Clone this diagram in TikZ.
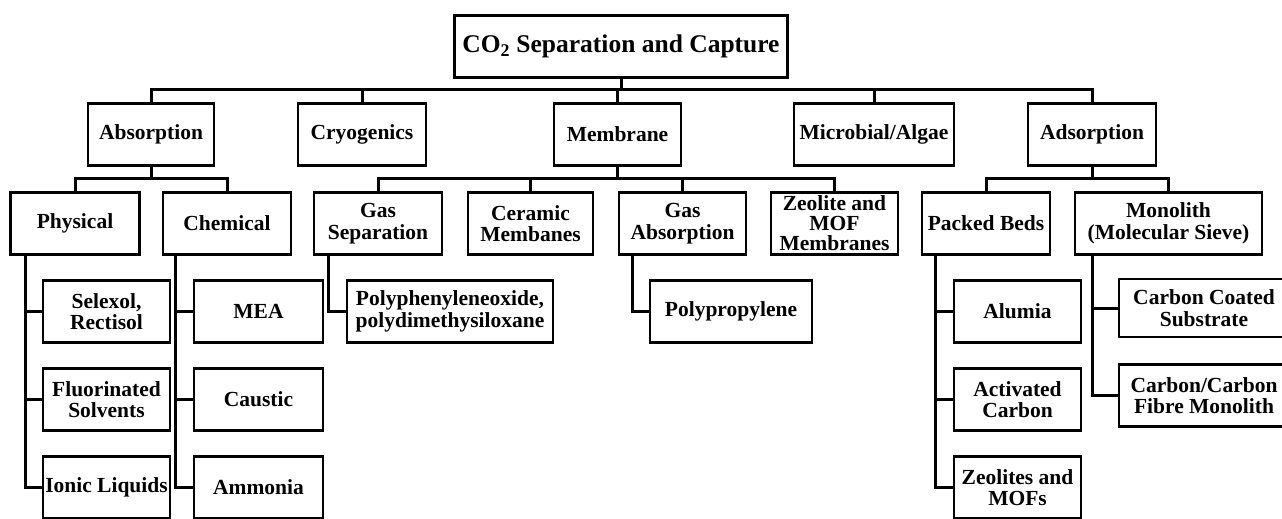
\documentclass[tikz,border=0pt]{standalone}
\usepackage{fontspec}
\setmainfont{Liberation Serif}
\begin{document}
\begin{tikzpicture}[x=1pt,y=-1pt,
  box/.style={shape=rectangle,draw=black,line width=2.6pt,align=center,inner sep=1pt,minimum height=62pt,font=\fontsize{21.5}{21.5}\selectfont\bfseries},
  link/.style={draw=black,line width=3pt}]
\useasboundingbox (0,0) rectangle (1282,519);

\node[box,minimum width=333pt,font=\fontsize{25.5}{27}\selectfont\bfseries] (top) at (621,46.5) {CO\textsubscript{2} Separation and Capture};

\node[box,minimum width=126pt] (absorp) at (151,134.5) {Absorption};
\node[box,minimum width=128pt] (cryo) at (362,134.5) {Cryogenics};
\node[box,minimum width=127pt] (membr) at (617.5,134.5) {Membrane};
\node[box,minimum width=160pt] (micro) at (874,134.5) {Microbial/Algae};
\node[box,minimum width=128pt] (adsorp) at (1092,134.5) {Adsorption};

\node[box,minimum width=129pt] (phys) at (75,223.5) {Physical};
\node[box,minimum width=128pt] (chem) at (227,223.5) {Chemical};
\node[box,minimum width=128pt] (gassep) at (378,223.5) {Gas\\Separation};
\node[box,minimum width=125pt] (ceramic) at (530.5,223.5) {Ceramic\\Membanes};
\node[box,minimum width=127pt] (gasabs) at (682.5,223.5) {Gas\\Absorption};
\node[box,minimum width=127pt,font=\fontsize{21.5}{20}\selectfont\bfseries] (zeomof) at (834.5,223.5) {Zeolite and\\MOF\\Membranes};
\node[box,minimum width=128pt] (packed) at (986,223.5) {Packed Beds};
\node[box,minimum width=187pt] (monolith) at (1168.5,223.5) {Monolith\\(Molecular Sieve)};

\node[box,minimum width=127pt] (selexol) at (106.5,311.5) {Selexol,\\Rectisol};
\node[box,minimum width=127pt] (fluor) at (106.5,399.5) {Fluorinated\\Solvents};
\node[box,minimum width=127pt] (ionic) at (106.5,487.5) {Ionic Liquids};
\node[box,minimum width=129pt] (mea) at (258.5,311.5) {MEA};
\node[box,minimum width=129pt] (caustic) at (258.5,399.5) {Caustic};
\node[box,minimum width=129pt] (ammonia) at (258.5,487.5) {Ammonia};
\node[box,minimum width=206pt] (polyph) at (450,311.5) {Polyphenyleneoxide,\\polydimethysiloxane};
\node[box,minimum width=162pt] (polyprop) at (731,311.5) {Polypropylene};
\node[box,minimum width=127pt] (alumia) at (1017.5,311.5) {Alumia};
\node[box,minimum width=127pt] (actcarb) at (1017.5,399.5) {Activated\\Carbon};
\node[box,minimum width=127pt] (zeomofs) at (1017.5,487.5) {Zeolites and\\MOFs};
\node[box,minimum width=170pt,minimum height=58pt] (carbcoat) at (1204,308) {Carbon Coated\\Substrate};
\node[box,minimum width=170pt] (carbfib) at (1204,395.5) {Carbon/Carbon\\Fibre Monolith};

\foreach \n in {absorp,cryo,membr,micro,adsorp}
  \draw[link] (top.south) -- ++(0,11) -| (\n.north);
\foreach \n in {phys,chem}
  \draw[link] (absorp.south) -- ++(0,12) -| (\n.north);
\foreach \n in {gassep,ceramic,gasabs,zeomof}
  \draw[link] (membr.south) -- ++(0,12) -| (\n.north);
\foreach \n in {packed,monolith}
  \draw[link] (adsorp.south) -- ++(0,12) -| (\n.north);

\foreach \n in {selexol,fluor,ionic}
  \draw[link] ([xshift=16pt]phys.south west) |- (\n.west);
\foreach \n in {mea,caustic,ammonia}
  \draw[link] ([xshift=14pt]chem.south west) |- (\n.west);
\draw[link] ([xshift=16pt]gassep.south west) |- (polyph.west);
\draw[link] ([xshift=15pt]gasabs.south west) |- (polyprop.west);
\foreach \n in {alumia,actcarb,zeomofs}
  \draw[link] ([xshift=15pt]packed.south west) |- (\n.west);
\foreach \n in {carbcoat,carbfib}
  \draw[link] ([xshift=19pt]monolith.south west) |- (\n.west);
\end{tikzpicture}
\end{document}
